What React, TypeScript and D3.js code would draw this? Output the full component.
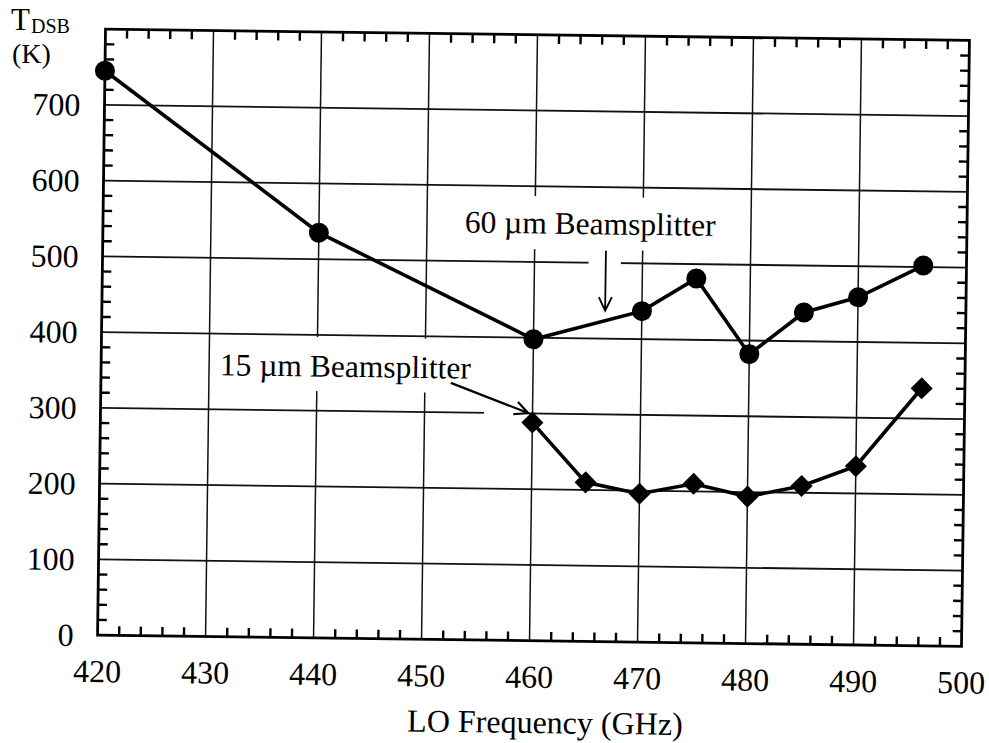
import React from "react";
import * as d3 from "d3";

const freq60 = [420, 440, 460, 470, 475, 480, 485, 490, 496];
const temp60 = [745, 535, 398, 437, 481, 382, 438, 459, 502];
const freq15 = [460, 465, 470, 475, 480, 485, 490, 496];
const temp15 = [288, 210, 196, 210, 194, 209, 236, 340];
const xTicks = [420, 430, 440, 450, 460, 470, 480, 490, 500];
const yTicks = [0, 100, 200, 300, 400, 500, 600, 700];
const label60 = "60 \u00b5m Beamsplitter";
const label15 = "15 \u00b5m Beamsplitter";
const xTitle = "LO Frequency (GHz)";

const W = 989, H = 743;
const L = 101.5, R = 965.5, T = 34.75, B = 640.75;
const CX = 533.5, CY = 337.75, ANG = 0.75;
const FONT = "'Liberation Serif', 'Times New Roman', serif";

export default function App() {
  const x = d3.scaleLinear().domain([420, 500]).range([L, R]);
  const y = d3.scaleLinear().domain([0, 800]).range([B, T]);

  const minorX: number[] = [];
  for (let v = 422; v < 500; v += 2) if (v % 10 !== 0) minorX.push(v);
  const minorY: number[] = [];
  for (let v = 20; v < 800; v += 20) if (v % 100 !== 0) minorY.push(v);
  const tk = 9;

  let tickPath = "";
  minorX.forEach((v) => {
    const px = x(v);
    tickPath += `M${px},${B}V${B - tk}M${px},${T}V${T + tk}`;
  });
  minorY.forEach((v) => {
    const py = y(v);
    tickPath += `M${L},${py}H${L + tk}M${R},${py}H${R - tk}`;
  });

  const line = d3.line<[number, number]>().x((d) => x(d[0])).y((d) => y(d[1]));
  const pts60: [number, number][] = freq60.map((f, i) => [f, temp60[i]]);
  const pts15: [number, number][] = freq15.map((f, i) => [f, temp15[i]]);

  const arrow = (x0: number, y0: number, x1: number, y1: number) => {
    const px0 = x(x0), py0 = y(y0), px1 = x(x1), py1 = y(y1);
    const a = Math.atan2(py1 - py0, px1 - px0);
    const len = 15, sp = 0.45;
    const h1 = [px1 - len * Math.cos(a - sp), py1 - len * Math.sin(a - sp)];
    const h2 = [px1 - len * Math.cos(a + sp), py1 - len * Math.sin(a + sp)];
    return `M${px0},${py0}L${px1},${py1}M${h1[0]},${h1[1]}L${px1},${py1}L${h2[0]},${h2[1]}`;
  };

  const mask = (x0: number, x1: number, y0: number, y1: number, k: string) => (
    <rect key={k} x={x(x0)} y={y(y1)} width={x(x1) - x(x0)} height={y(y0) - y(y1)} fill="#fff" />
  );

  const diamond = d3.symbol().type(d3.symbolDiamond2 || d3.symbolSquare).size(310)();

  return (
    <svg width={W} height={H} style={{ position: "absolute", left: 0, top: 0, background: "#fff" }} fontFamily={FONT}>
      <rect width={W} height={H} fill="#fff" />
      {/* y axis label */}
      <text x={11} y={30} fontSize={31} fill="#000">T</text>
      <text x={31} y={33} fontSize={20} fill="#000">DSB</text>
      <text x={12} y={63} fontSize={28} fill="#000">(K)</text>

      <g transform={`rotate(${ANG},${CX},${CY})`}>
        {/* gridlines */}
        {yTicks.filter((v) => v > 0).map((v) => (
          <line key={"gy" + v} x1={L} x2={R} y1={y(v)} y2={y(v)} stroke="#111" strokeWidth={1.8} />
        ))}
        {xTicks.filter((v) => v > 420 && v < 500).map((v) => (
          <line key={"gx" + v} x1={x(v)} x2={x(v)} y1={T} y2={B} stroke="#111" strokeWidth={1.5} />
        ))}

        {/* masks behind annotations */}
        {mask(452, 478, 517, 587, "m60")}
        {mask(465.0, 468.0, 490, 510, "m60a")}
        {mask(430.6, 455.5, 326, 397, "m15")}
        {mask(455.5, 459.4, 292, 308, "m15a")}

        {/* annotations */}
        <text x={x(453.5)} y={y(537.6)} fontSize={31.5} fill="#000">{label60}</text>
        <text x={x(431.0)} y={y(345)} fontSize={31.5} fill="#000">{label15}</text>
        <path d={arrow(466.6, 516, 466.6, 437)} fill="none" stroke="#000" strokeWidth={1.8} />
        <path d={arrow(452.4, 339, 459.6, 300.5)} fill="none" stroke="#000" strokeWidth={2.2} />

        {/* data */}
        <path d={line(pts60) || ""} fill="none" stroke="#000" strokeWidth={3.6} />
        <path d={line(pts15) || ""} fill="none" stroke="#000" strokeWidth={3.6} />
        {pts60.map((p, i) => (
          <circle key={"c" + i} cx={x(p[0])} cy={y(p[1])} r={10} fill="#000" />
        ))}
        {pts15.map((p, i) => (
          <path key={"d" + i} d={diamond || ""} transform={`translate(${x(p[0])},${y(p[1])})`} fill="#000" />
        ))}

        {/* frame */}
        <rect x={L} y={T} width={R - L} height={B - T} fill="none" stroke="#000" strokeWidth={2.8} />

        {/* minor ticks */}
        <path d={tickPath} fill="none" stroke="#000" strokeWidth={2.4} />

        {/* tick labels */}
        {yTicks.map((v) => (
          <text key={"ly" + v} x={L - 24} y={y(v)} dy="0.35em" textAnchor="end" fontSize={32} fill="#000">{v}</text>
        ))}
        {xTicks.map((v) => (
          <text key={"lx" + v} x={x(v)} y={B + 47} textAnchor="middle" fontSize={32} fill="#000">{v}</text>
        ))}
        <text x={550} y={733} textAnchor="middle" fontSize={32} fill="#000">{xTitle}</text>
      </g>
    </svg>
  );
}
